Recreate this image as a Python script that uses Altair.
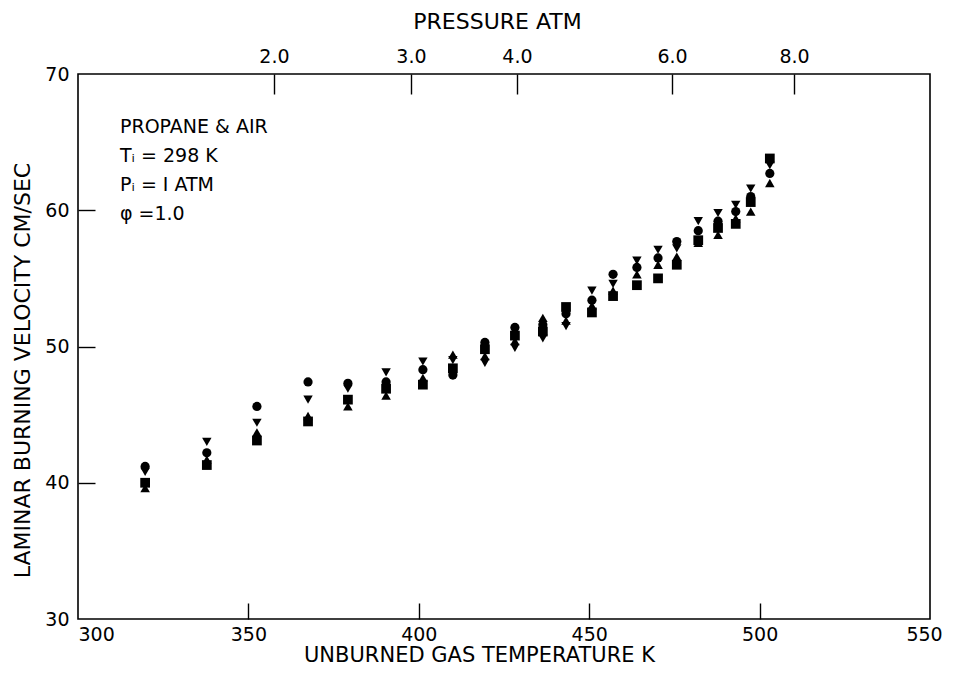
import altair as alt
import pandas as pd

# ---- data ----
temps = [319.7, 337.8, 352.5, 367.5, 379.2, 390.4, 401.2, 410.0, 419.4, 428.2, 436.4,
         443.2, 450.8, 457.0, 464.0, 470.2, 475.7, 482.0, 487.8, 493.0, 497.4, 503.0]
circle = [41.2, 42.2, 45.6, 47.4, 47.3, 47.4, 48.3, 47.9, 50.3, 51.4, 51.6,
          52.4, 53.4, 55.3, 55.8, 56.5, 57.7, 58.5, 59.2, 59.9, 61.0, 62.7]
tri_down = [40.8, 43.0, 44.4, 46.1, 46.9, 48.1, 48.9, 49.0, 48.8, 49.9, 50.6,
            51.5, 54.1, 54.6, 56.3, 57.1, 57.2, 59.2, 59.8, 60.4, 61.6, 63.3]
tri_up = [39.6, 41.7, 43.7, 44.9, 45.6, 46.4, 47.7, 49.4, 49.3, 50.4, 52.1,
          51.9, 53.0, 54.1, 55.3, 56.0, 56.6, 57.6, 58.2, 59.4, 59.9, 62.0]
square = [40.0, 41.3, 43.1, 44.5, 46.1, 46.9, 47.2, 48.4, 49.8, 50.8, 51.1,
          52.9, 52.5, 53.7, 54.5, 55.0, 56.0, 57.8, 58.7, 59.0, 60.6, 63.8]

x_ticks = [300, 350, 400, 450, 500, 550]
y_ticks = [30, 40, 50, 60, 70]
p_labels = ["2.0", "3.0", "4.0", "6.0", "8.0"]
p_temps = [357.5, 397.7, 428.8, 474.3, 510.1]

notes = ["PROPANE & AIR", "Tᵢ = 298 K", "Pᵢ = I ATM", "φ =1.0"]

# ---- build table ----
rows = []
for name, vals in [("circle", circle), ("down", tri_down), ("up", tri_up), ("square", square)]:
    for t, v in zip(temps, vals):
        rows.append({"T": t, "V": v, "sym": name})
df = pd.DataFrame(rows)

FONT = "DejaVu Sans"
XD = [300, 550]
YD = [30, 70]

xs = alt.Scale(domain=XD, nice=False, zero=False)
ys = alt.Scale(domain=YD, nice=False, zero=False)

label_expr = " : ".join(
    f"datum.value == {t} ? '{l}'" for t, l in zip(p_temps, p_labels)
) + " : ''"

base = alt.Chart(df)

points = base.mark_point(filled=True, opacity=1, color="black").encode(
    x=alt.X("T:Q", scale=xs,
            axis=alt.Axis(values=x_ticks, title="UNBURNED GAS TEMPERATURE K",
                          ticks=False, domain=False, grid=False, labelPadding=6,
                          labelAlign={"condition": {"test": "datum.value == 300", "value": "left"},
                                      "value": "center"},
                          labelOffset={"condition": {"test": "datum.value == 550", "value": -6},
                                       "value": 0},
                          titleX=401, titleY=36, titleAlign="center", titleBaseline="middle",
                          titleFontSize=21, format="d")),
    y=alt.Y("V:Q", scale=ys,
            axis=alt.Axis(values=y_ticks, title="LAMINAR BURNING VELOCITY CM/SEC",
                          ticks=False, domain=False, grid=False, labelPadding=9,
                          titleX=-56, titleY=296, titleAlign="center", titleBaseline="middle",
                          titleFontSize=22, format="d")),
    shape=alt.Shape("sym:N", legend=None,
                    scale=alt.Scale(domain=["circle", "down", "up", "square"],
                                    range=["circle", "triangle-down", "triangle-up", "square"])),
    size=alt.Size("sym:N", legend=None,
                  scale=alt.Scale(domain=["circle", "down", "up", "square"],
                                  range=[85, 95, 95, 80])),
)

inner_ticks = base.mark_point(opacity=0).encode(
    x=alt.X("T:Q", scale=xs,
            axis=alt.Axis(values=x_ticks[1:-1], orient="bottom", offset=-16, tickSize=16,
                          labels=False, domain=False, grid=False, title=None,
                          tickColor="black", tickWidth=1.4)),
    y=alt.Y("V:Q", scale=ys,
            axis=alt.Axis(values=y_ticks[1:-1], orient="left", offset=-17, tickSize=17,
                          labels=False, domain=False, grid=False, title=None,
                          tickColor="black", tickWidth=1.4)),
)

top_labels = base.mark_point(opacity=0).encode(
    x=alt.X("T:Q", scale=xs,
            axis=alt.Axis(values=p_temps, orient="top", labelExpr=label_expr,
                          ticks=False, domain=False, grid=False, labelPadding=8,
                          title="PRESSURE ATM", titleX=419, titleY=-53,
                          titleAlign="center", titleBaseline="middle", titleFontSize=22)),
    y=alt.Y("V:Q", scale=ys, axis=None),
)

top_ticks = base.mark_point(opacity=0).encode(
    x=alt.X("T:Q", scale=xs,
            axis=alt.Axis(values=p_temps, orient="top", offset=-20, tickSize=20,
                          labels=False, domain=False, grid=False, title=None,
                          tickColor="black", tickWidth=1.4)),
    y=alt.Y("V:Q", scale=ys, axis=None),
)

text_layers = []
for i, line in enumerate(notes):
    text_layers.append(
        alt.Chart(pd.DataFrame({"t": [line]})).mark_text(
            align="left", baseline="middle", font=FONT, fontSize=19, color="black"
        ).encode(text="t:N", x=alt.value(42), y=alt.value(53 + 29 * i))
    )

chart = alt.layer(points, inner_ticks, top_labels, top_ticks, *text_layers).resolve_scale(
    x="independent", y="independent"
).properties(
    width=852, height=545,
    padding={"left": 70, "top": 66, "right": 15, "bottom": 49},
    autosize=alt.AutoSizeParams(type="none"),
).configure_view(
    stroke="black", strokeWidth=1.6
).configure_axis(
    labelFont=FONT, titleFont=FONT, labelFontSize=19, titleFontSize=20,
    labelColor="black", titleColor="black", titleFontWeight="normal",
)

chart.save("out.html", embed_options={"renderer": "svg", "actions": False})
